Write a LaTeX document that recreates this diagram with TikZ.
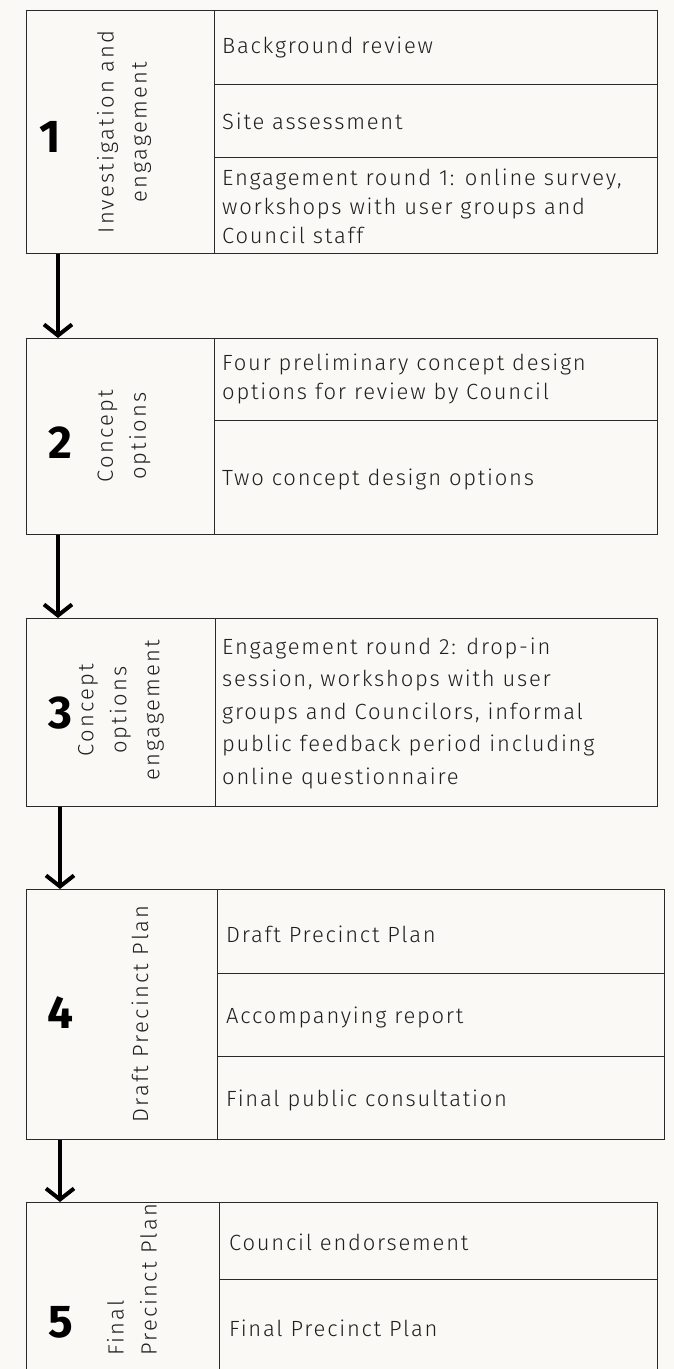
\documentclass[tikz,border=0pt]{standalone}
\usepackage{fontspec}
\setmainfont{Fira Sans}[UprightFont=* Light, BoldFont=* Bold, LetterSpace=8]
\newfontfamily\vfont{Fira Sans}[UprightFont=* Light, LetterSpace=10]
\newfontfamily\numfont{Fira Sans}[UprightFont=* Bold]
\usetikzlibrary{arrows.meta}
\definecolor{bg}{HTML}{FAF9F6}
\definecolor{ln}{HTML}{2A2A2A}
\tikzset{
  cell/.style={draw=ln, line width=1.3pt, anchor=north west, inner sep=0pt},
  rowtext/.style={anchor=west, align=left, inner sep=0pt, font=\fontsize{22}{29}\selectfont, text=black!88},
  numtext/.style={font=\numfont\fontsize{46}{46}\selectfont, inner sep=0pt},
  vlabel/.style={rotate=90, align=center, inner sep=0pt, font=\vfont\fontsize{22}{33}\selectfont, text=black!88},
  flow/.style={line width=4pt, -{Straight Barb[length=11pt,width=28pt,line width=4pt]}}
}
\begin{document}
\begin{tikzpicture}[x=1pt,y=-1pt]
\fill[bg] (0,0) rectangle (674,1369);
\useasboundingbox (0,0) rectangle (674,1369);
\clip (0,0) rectangle (674,1369);

% Box 1
\node[cell, minimum width=188pt, minimum height=243pt] (l1) at (26,10) {};
\node[cell, minimum width=443pt, minimum height=74pt] (r1a) at (214,10) {};
\node[cell, minimum width=443pt, minimum height=73pt] (r1b) at (214,84) {};
\node[cell, minimum width=443pt, minimum height=96pt] (r1c) at (214,157) {};
\node[numtext] (n1) at (50,137) {1};
\node[vlabel] (v1) at (124,132) {Investigation and\\engagement};
\node[rowtext] (t1a) at (222,47) {Background review};
\node[rowtext] (t1b) at (222,121) {Site assessment};
\node[rowtext] (t1c) at (222,206) {Engagement round 1: online survey,\\workshops with user groups and\\Council staff};

% Box 2
\node[cell, minimum width=188pt, minimum height=196pt] (l2) at (26,338) {};
\node[cell, minimum width=443pt, minimum height=82pt] (r2a) at (214,338) {};
\node[cell, minimum width=443pt, minimum height=114pt] (r2b) at (214,420) {};
\node[numtext] (n2) at (60,443) {2};
\node[vlabel] (v2) at (124,436) {Concept\\options};
\node[rowtext] (t2a) at (222,379) {Four preliminary concept design\\options for review by Council};
\node[rowtext] (t2b) at (222,479) {Two concept design options};

% Box 3
\node[cell, minimum width=189pt, minimum height=188pt] (l3) at (26,618) {};
\node[cell, minimum width=442pt, minimum height=188pt] (r3) at (215,618) {};
\node[numtext] (n3) at (60,713) {3};
\node[vlabel] (v3) at (121,710) {Concept\\options\\engagement};
\node[rowtext, font=\fontsize{22}{32.5}\selectfont] (t3) at (222,713) {Engagement round 2: drop-in\\session, workshops with user\\groups and Councilors, informal\\public feedback period including\\online questionnaire};

% Box 4
\node[cell, minimum width=191pt, minimum height=250pt] (l4) at (26,889) {};
\node[cell, minimum width=447pt, minimum height=84pt] (r4a) at (217,889) {};
\node[cell, minimum width=447pt, minimum height=83pt] (r4b) at (217,973) {};
\node[cell, minimum width=447pt, minimum height=83pt] (r4c) at (217,1056) {};
\node[numtext] (n4) at (60,1013) {4};
\node[vlabel] (v4) at (140,1014) {Draft Precinct Plan};
\node[rowtext] (t4a) at (226,934) {Draft Precinct Plan};
\node[rowtext] (t4b) at (226,1017) {Accompanying report};
\node[rowtext] (t4c) at (226,1100) {Final public consultation};

% Box 5
\node[cell, minimum width=193pt, minimum height=190pt] (l5) at (26,1202) {};
\node[cell, minimum width=438pt, minimum height=77pt] (r5a) at (219,1202) {};
\node[cell, minimum width=438pt, minimum height=113pt] (r5b) at (219,1279) {};
\node[numtext] (n5) at (61,1322) {5};
\node[vlabel, align=left] (v5) at (132,1280) {Final\\Precinct Plan};
\node[rowtext] (t5a) at (229,1242) {Council endorsement};
\node[rowtext] (t5b) at (229,1328) {Final Precinct Plan};

% Arrows
\draw[flow] (l1.south west) ++(32,0) coordinate (a1s) -- (a1s |- l2.north);
\draw[flow] (l2.south west) ++(32,0) coordinate (a2s) -- (a2s |- l3.north);
\draw[flow] (l3.south west) ++(34,0) coordinate (a3s) -- (a3s |- l4.north);
\draw[flow] (l4.south west) ++(34,0) coordinate (a4s) -- (a4s |- l5.north);
\end{tikzpicture}
\end{document}
